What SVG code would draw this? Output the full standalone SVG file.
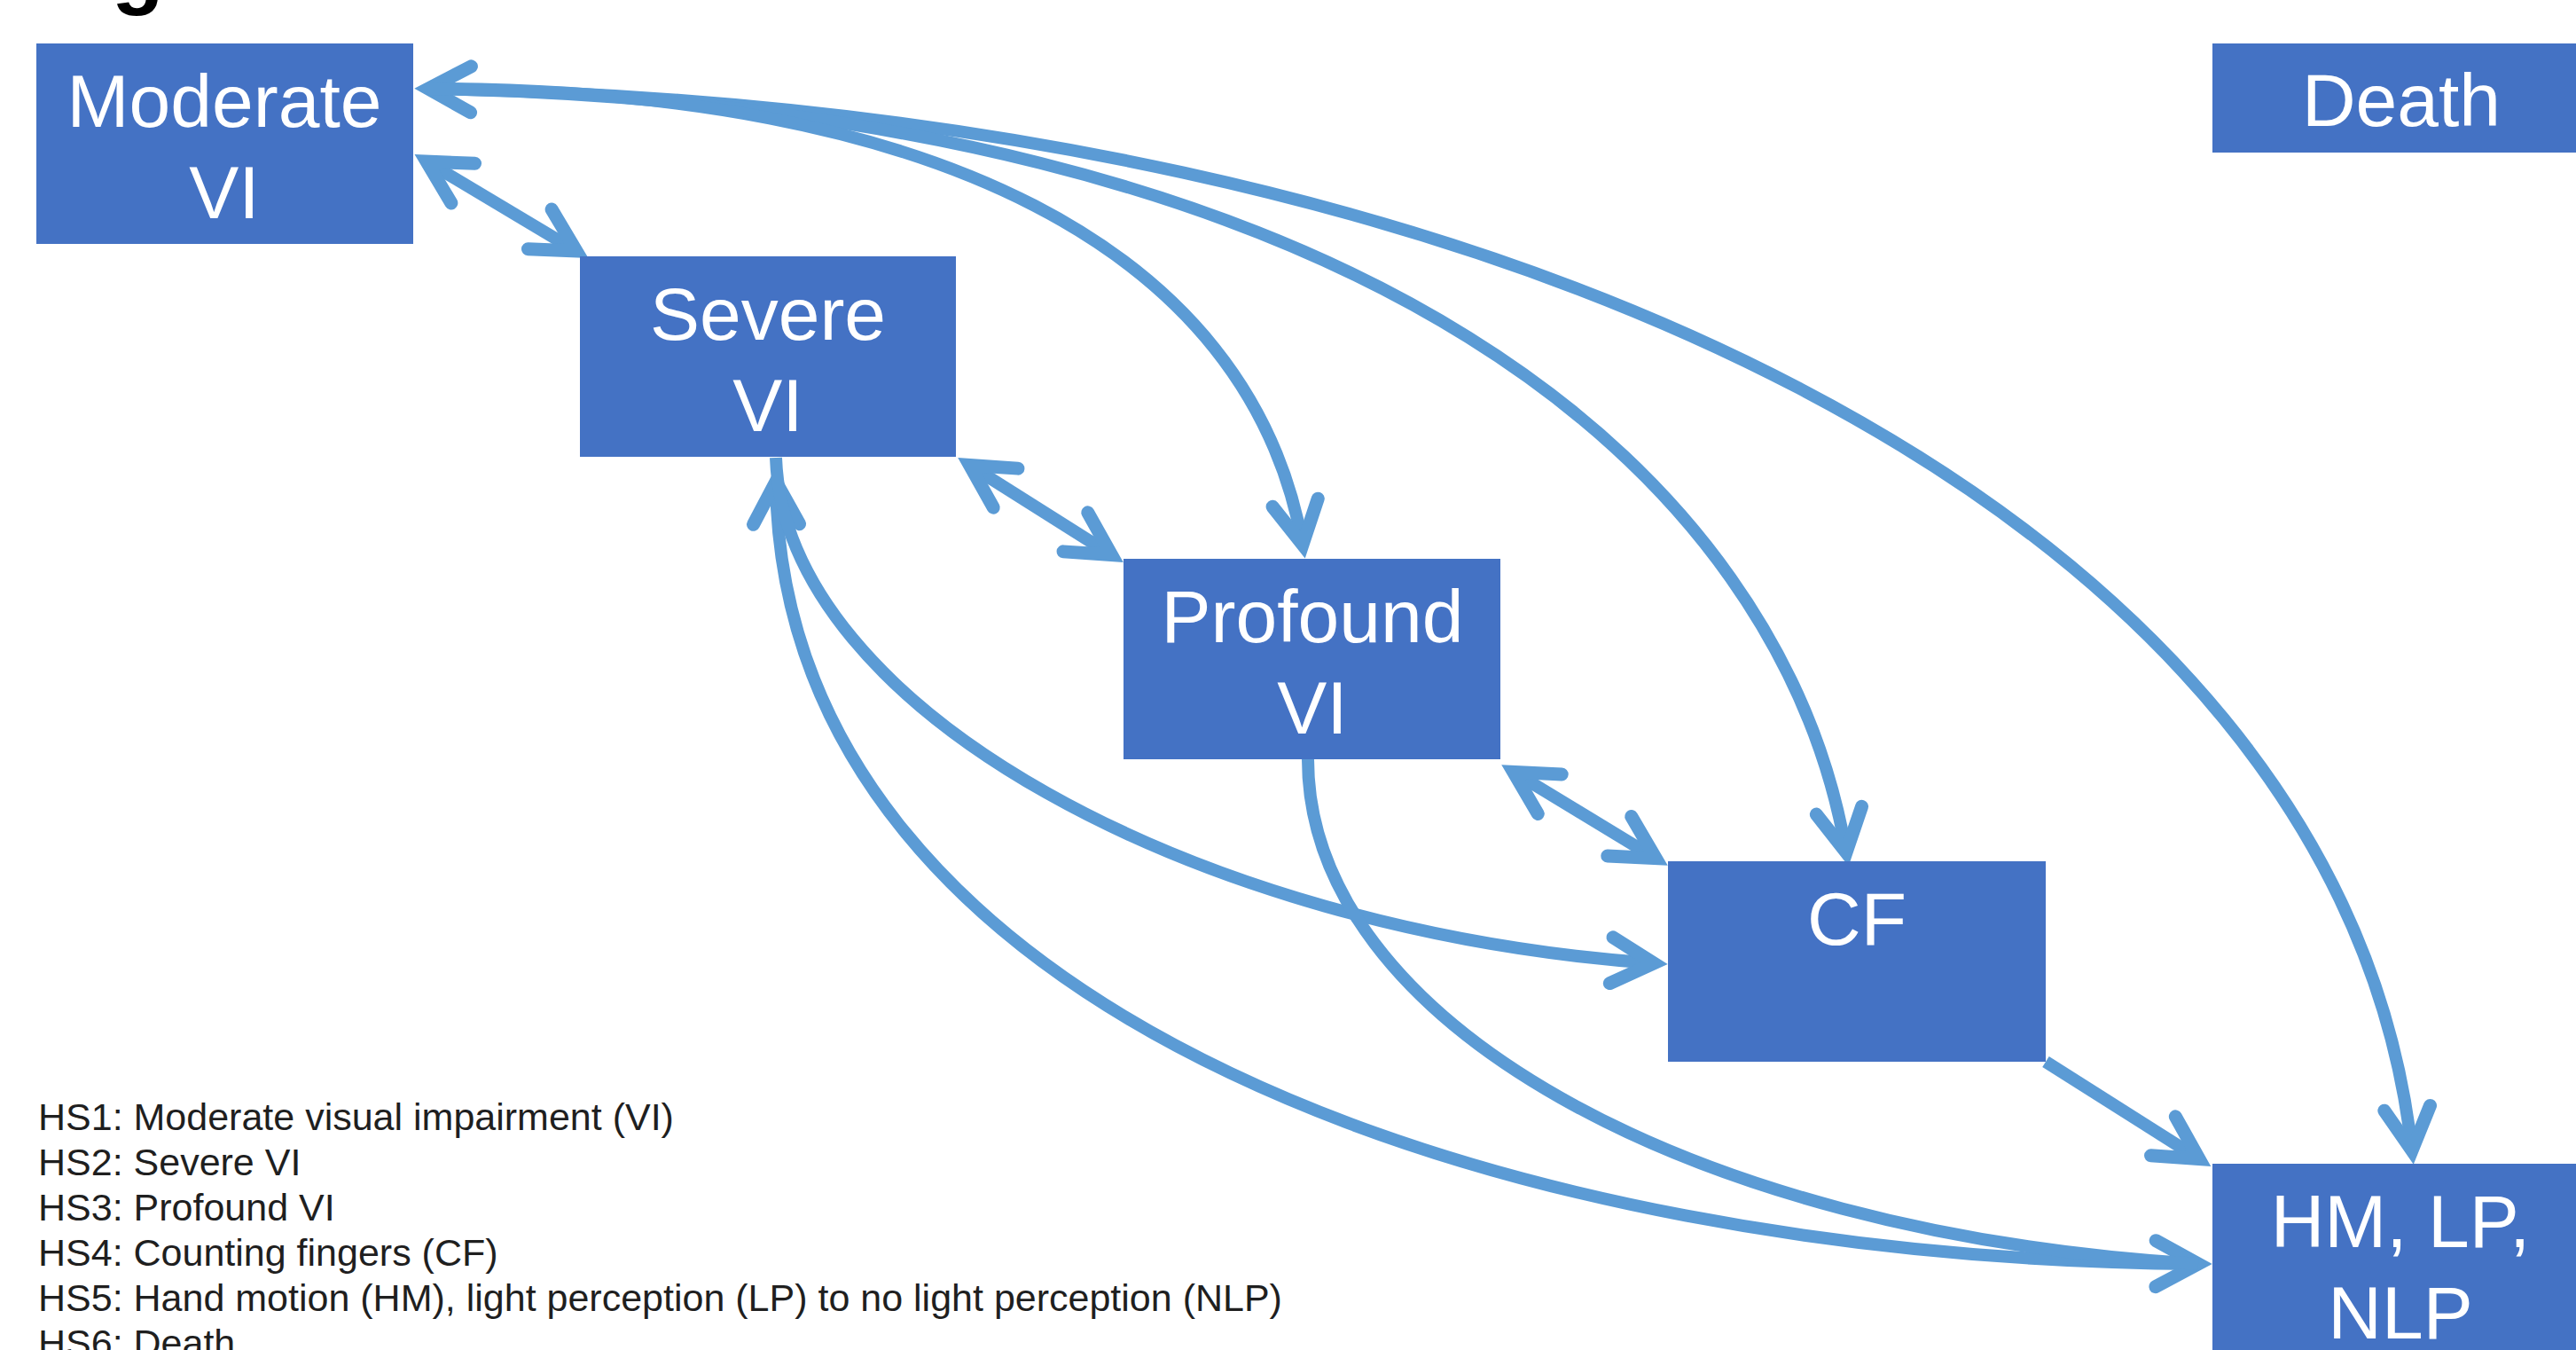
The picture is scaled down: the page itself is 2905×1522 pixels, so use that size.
<svg xmlns="http://www.w3.org/2000/svg" width="2905" height="1522" viewBox="0 0 2905 1522">
<style>
.node rect{fill:#4472C4}
.node text{font-family:"Liberation Sans",Arial,sans-serif;font-size:84px;fill:#ffffff;text-anchor:middle}
.conn path{fill:none;stroke:#5B9BD5;stroke-width:14}
.legend text{font-family:"Liberation Sans",Arial,sans-serif;font-size:43px;fill:#1f1f1f}
.title{font-family:"Liberation Sans",Arial,sans-serif;font-weight:bold;font-size:96px;fill:#000}
</style>
<defs>
<marker id="ah" markerUnits="userSpaceOnUse" markerWidth="140" markerHeight="140" viewBox="-90 -70 140 140" refX="0" refY="0" orient="auto-start-reverse" overflow="visible">
<path d="M-48,-26 L0,0 L-48,26" fill="none" stroke="#5B9BD5" stroke-width="15" stroke-linecap="round" stroke-linejoin="miter"/>
</marker>
</defs>
<rect width="2905" height="1522" fill="#ffffff"/>
<text class="title" x="126" y="-2">g</text>
<g id="connectors" class="conn">
<path d="M483,100 C1700,120 2640,580 2720,1297" marker-start="url(#ah)" marker-end="url(#ah)"/>
<path d="M483,100 C1550,120 2010,540 2082,961" marker-end="url(#ah)"/>
<path d="M483,100 C1050,100 1410,280 1469,614" marker-end="url(#ah)"/>
<path d="M875,543 C882,1150 1700,1420 2479,1425" marker-start="url(#ah)" marker-end="url(#ah)"/>
<path d="M875,516 C885,800 1350,1050 1865,1086" marker-end="url(#ah)"/>
<path d="M1475,856 C1475,1150 1900,1390 2479,1425"/>
<path d="M481,182 L650,283" marker-start="url(#ah)" marker-end="url(#ah)"/>
<path d="M1093.5,524.5 L1253.5,625.5" marker-start="url(#ah)" marker-end="url(#ah)"/>
<path d="M1706.7,870.3 L1867.3,967.7" marker-start="url(#ah)" marker-end="url(#ah)"/>
<path d="M2307,1197 L2480,1306.5" marker-end="url(#ah)"/>
</g>
<g id="node-moderate" class="node"><rect x="41" y="49" width="425" height="226"/><text x="253" y="143">Moderate</text><text x="253" y="246">VI</text></g>
<g id="node-severe" class="node"><rect x="654" y="289" width="424" height="226"/><text x="866" y="383">Severe</text><text x="866" y="486">VI</text></g>
<g id="node-profound" class="node"><rect x="1267" y="630" width="425" height="226"/><text x="1480" y="724">Profound</text><text x="1480" y="827">VI</text></g>
<g id="node-cf" class="node"><rect x="1881" y="971" width="426" height="226"/><text x="2094" y="1065">CF</text></g>
<g id="node-hm" class="node"><rect x="2495" y="1312" width="425" height="226"/><text x="2707" y="1406">HM, LP,</text><text x="2707" y="1509">NLP</text></g>
<g id="node-death" class="node"><rect x="2495" y="49" width="425" height="123"/><text x="2708" y="142">Death</text></g>
<g id="legend" class="legend">
<text x="43" y="1274">HS1: Moderate visual impairment (VI)</text>
<text x="43" y="1325">HS2: Severe VI</text>
<text x="43" y="1376">HS3: Profound VI</text>
<text x="43" y="1427">HS4: Counting fingers (CF)</text>
<text x="43" y="1478">HS5: Hand motion (HM), light perception (LP) to no light perception (NLP)</text>
<text x="43" y="1529">HS6: Death</text>
</g>
</svg>
